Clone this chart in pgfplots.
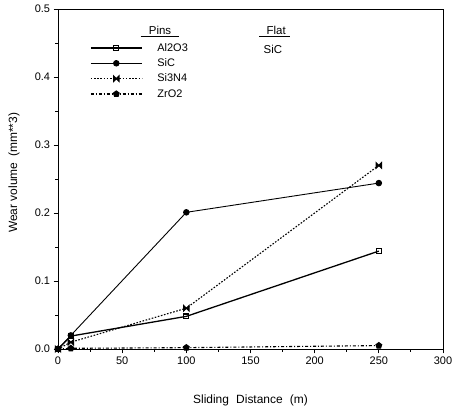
\documentclass[border=0pt]{standalone}
\usepackage{pgfplots}
\pgfplotsset{compat=1.18}
\usepackage{fontspec}
\setmainfont{Liberation Sans}
\pgfdeclareplotmark{bowtie}{%
  \pgfpathmoveto{\pgfqpoint{-\pgfplotmarksize}{-\pgfplotmarksize}}%
  \pgfpathlineto{\pgfqpoint{-\pgfplotmarksize}{\pgfplotmarksize}}%
  \pgfpathlineto{\pgfqpoint{\pgfplotmarksize}{-\pgfplotmarksize}}%
  \pgfpathlineto{\pgfqpoint{\pgfplotmarksize}{\pgfplotmarksize}}%
  \pgfpathclose
  \pgfusepathqfillstroke}
\begin{document}
\begin{tikzpicture}
\begin{axis}[
  name=ax,
  scale only axis,
  width=385bp, height=340bp,
  xmin=0, xmax=300, ymin=0, ymax=0.5,
  xtick={0,50,...,300},
  ytick={0,0.1,...,0.5},
  minor x tick num=1, minor y tick num=1,
  tick pos=left, tick align=outside,
  major tick length=4.5pt, minor tick length=3pt,
  /pgf/number format/assume math mode=true,
  yticklabel style={/pgf/number format/.cd,fixed,fixed zerofill,precision=1},
  ticklabel style={font=\fontsize{11}{13}\selectfont},
  xlabel={Sliding\hspace{0.6em}Distance\hspace{0.6em}(m)},
  ylabel={Wear volume\hspace{0.5em}(mm**3)},
  label style={font=\fontsize{12}{14}\selectfont},
  xlabel style={at={(axis description cs:0.5,-0.15)},anchor=center},
  ylabel style={at={(axis description cs:-0.114,0.518)},anchor=center},
  axis line style={line width=1pt},
  every tick/.style={line width=1pt,black},
  legend style={draw=none, fill=none, inner sep=0pt,
    at={(axis description cs:0.083,0.906)}, anchor=north west,
    font=\fontsize{11}{13}\selectfont, row sep=2pt,
    nodes={inner xsep=8pt},
    /tikz/every odd column/.append style={column sep=7pt}},
  legend cell align=left,
  legend image code/.code={\draw[mark repeat=2,mark phase=2,#1] plot coordinates {(0cm,0cm) (0.9cm,0cm) (1.8cm,0cm)};},
]
\addplot[black, line width=1.3pt, mark=square, mark size=2.4pt, mark options={solid,fill=white,line width=1.1pt}]
  coordinates {(0,0) (10,0.019) (100,0.048) (250,0.144)};
\addlegendentry{Al2O3}
\addplot[black, line width=0.9pt, mark=*, mark size=2.8pt, mark options={solid}]
  coordinates {(0,0) (10,0.02) (100,0.201) (250,0.244)};
\addlegendentry{SiC}
\addplot[black, line width=1.1pt, dash pattern=on 1.6pt off 1.6pt, mark=bowtie, mark size=2.7pt, mark options={solid}]
  coordinates {(0,0) (10,0.01) (100,0.06) (250,0.27)};
\addlegendentry{Si3N4}
\addplot[black, line width=1.1pt, dash pattern=on 3pt off 2pt on 1pt off 2pt, mark=pentagon*, mark size=3pt, mark options={solid}]
  coordinates {(0,0) (10,0.001) (100,0.002) (250,0.005)};
\addlegendentry{ZrO2}
\node[font=\fontsize{11.5}{13}\selectfont, inner sep=1pt] (pins) at (axis cs:79.5,0.468) {Pins};
\draw[line width=0.9pt] ([xshift=-7pt]pins.south west) -- ([xshift=7pt]pins.south east);
\node[font=\fontsize{11.5}{13}\selectfont, inner sep=1pt] (flat) at (axis cs:170,0.468) {Flat};
\draw[line width=0.9pt] ([xshift=-6pt]flat.south west) -- ([xshift=3pt]flat.south east);
\node[font=\fontsize{11.5}{13}\selectfont] at (axis cs:167.5,0.441) {SiC};
\end{axis}
\pgfresetboundingbox
\path[use as bounding box] ([xshift=-58bp,yshift=-59bp]ax.south west) rectangle ([xshift=10bp,yshift=9bp]ax.north east);
\end{tikzpicture}
\end{document}
